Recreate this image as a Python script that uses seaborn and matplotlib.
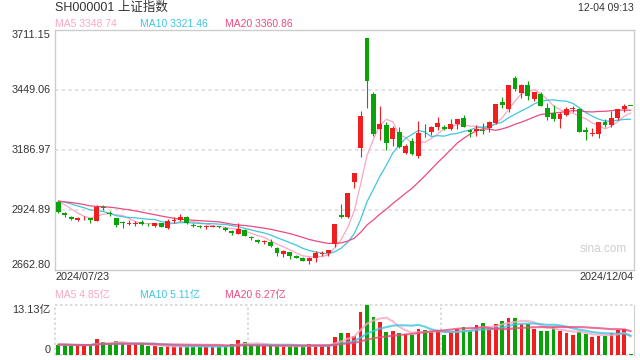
import numpy as np
import pandas as pd
import seaborn as sns
import matplotlib
matplotlib.use("Agg")
import matplotlib.pyplot as plt


# daily OHLC of SH000001, 2024/07/23 .. 2024/12/04 (90 trading days)
opens = [2962, 2911, 2893, 2883, 2888, 2888, 2879, 2940, 2913, 2891,
         2873, 2864, 2862, 2872, 2861, 2856, 2867, 2848, 2875, 2880,
         2893, 2861, 2856, 2849, 2852, 2854, 2845, 2833, 2821, 2838,
         2806, 2796, 2784, 2787, 2758, 2732, 2740, 2724, 2716, 2704,
         2717, 2733, 2735, 2775, 2901, 2896, 3049, 3196, 3674.40, 3433,
         3278, 3297, 3233, 3264, 3173, 3225, 3162, 3272, 3267, 3286,
         3287, 3280, 3300, 3325, 3275, 3268, 3276, 3283, 3305, 3398,
         3364, 3500, 3437, 3471, 3408, 3433, 3369, 3347, 3324, 3342,
         3364, 3366, 3275, 3256, 3255, 3311, 3296, 3328, 3368, 3379]
highs = [2966, 2914, 2898, 2893, 2898, 2891, 2945, 2948, 2922, 2892,
         2878, 2880, 2878, 2880, 2866, 2870, 2868, 2884, 2893, 2906,
         2897, 2866, 2860, 2859, 2860, 2857, 2850, 2838, 2866, 2840,
         2812, 2797, 2793, 2799, 2763, 2748, 2741, 2727, 2719, 2718,
         2747, 2745, 2752, 2863, 2952, 3000.95, 3087.80, 3358.59, 3674.40, 3440,
         3380, 3310, 3290, 3288, 3213, 3240, 3312, 3300, 3290, 3330,
         3294, 3321, 3322, 3340, 3280, 3296, 3306, 3313, 3388, 3420,
         3472, 3511, 3474, 3490, 3440, 3440, 3391, 3383, 3352, 3375,
         3380, 3372, 3286, 3283, 3310, 3321, 3356, 3365, 3386, 3379]
lows = [2912, 2896, 2880, 2876, 2883, 2866, 2876, 2927, 2899, 2851,
        2847, 2858, 2855, 2858, 2853, 2852, 2849, 2844, 2870, 2877,
        2863, 2852, 2846, 2841, 2850, 2846, 2833, 2815, 2818, 2810,
        2796, 2779, 2778, 2765, 2726, 2720, 2713, 2716, 2702, 2690,
        2699, 2723, 2722, 2764, 2889, 2889, 3020, 3155, 3370, 3246,
        3232, 3189, 3204, 3196, 3168, 3165, 3152, 3242, 3254, 3275,
        3275, 3275, 3279, 3286, 3245, 3248, 3258, 3264, 3300, 3369,
        3355, 3446, 3416, 3405, 3402, 3377, 3320, 3315, 3285, 3335,
        3354, 3266, 3231, 3248, 3240, 3289, 3289, 3318, 3354, 3378.81]
closes = [2915.37, 2901.95, 2886.74, 2890.90, 2891.85, 2879.30, 2938.75, 2932.39, 2905.34, 2860.70,
          2867.28, 2869.90, 2869.83, 2862.19, 2858.20, 2867.95, 2850.65, 2877.36, 2879.43, 2893.67,
          2866.66, 2856.58, 2848.77, 2854.37, 2855.52, 2848.73, 2837.43, 2823.11, 2842.21, 2811.04,
          2802.98, 2784.28, 2788.22, 2765.81, 2736.49, 2744.19, 2721.80, 2717.12, 2704.09, 2717.28,
          2736.02, 2736.81, 2748.92, 2863.13, 2896.31, 3000.95, 3087.53, 3336.50, 3489.78, 3258.86,
          3301.93, 3217.74, 3284.32, 3201.29, 3202.95, 3169.38, 3261.56, 3268.11, 3285.87, 3302.80,
          3280.26, 3299.70, 3322.20, 3286.41, 3266.24, 3279.82, 3272.01, 3310.21, 3386.99, 3383.81,
          3470.66, 3452.30, 3470.07, 3421.97, 3439.28, 3379.84, 3330.73, 3323.85, 3346.01, 3367.99,
          3370.40, 3267.19, 3263.76, 3259.76, 3309.78, 3295.70, 3326.46, 3363.98, 3378.81, 3378.81]
# closes of the 19 sessions before the window, only needed to start the moving averages
prev_closes = [2972.53, 2945.85, 2967.40, 2994.73, 2997.01, 2982.38, 2957.57, 2949.93, 2922.45, 2959.37,
               2939.36, 2970.39, 2971.30, 2974.01, 2976.30, 2962.76, 2977.13, 2982.31, 2964.22]
# volume, 亿
volumes = [2.73, 2.73, 2.55, 2.55, 2.55, 2.55, 4.14, 3.35, 2.91, 3.61,
           3.08, 2.55, 2.91, 2.91, 2.29, 2.29, 2.03, 2.29, 2.29, 2.29,
           2.29, 2.29, 2.29, 2.29, 2.29, 2.29, 2.29, 2.91, 3.87, 3.35,
           2.55, 2.55, 2.29, 2.55, 2.29, 2.29, 2.29, 2.29, 2.29, 3.00,
           2.50, 2.38, 2.38, 4.84, 5.90, 5.90, 5.02, 11.18, 13.13, 10.04,
           8.54, 6.16, 6.34, 5.90, 5.55, 5.28, 6.87, 6.61, 5.99, 6.43,
           5.24, 5.99, 6.73, 7.35, 6.43, 7.88, 8.45, 6.73, 8.19, 8.94,
           9.73, 9.73, 8.15, 8.19, 6.82, 6.30, 6.30, 7.26, 6.30, 5.81,
           5.24, 6.07, 5.50, 4.71, 5.02, 4.97, 5.81, 6.60, 6.73, 0.20]

price_ticks = [3711.15, 3449.06, 3186.97, 2924.89, 2662.80]
price_tick_labels = ['3711.15', '3449.06', '3186.97', '2924.89', '2662.80']
vol_ticks = [13.13, 0]
vol_tick_labels = ['13.13亿', '0']
date_labels = ['2024/07/23', '2024/12/04']
title = 'SH000001 上证指数'
stamp = '12-04 09:13'
ma_price_text = ['MA5 3348.74', 'MA10 3321.46', 'MA20 3360.86']
ma_vol_text = ['MA5 4.85亿', 'MA10 5.11亿', 'MA20 6.27亿']

RED = '#f01e1e'
GREEN = '#08a308'
MA_COLORS = ['#f8a8c4', '#3ec6e0', '#ec4b7f']
TXT = '#333333'

df = pd.DataFrame({'open': opens, 'high': highs, 'low': lows,
                   'close': closes, 'vol': volumes})
df['i'] = np.arange(len(df))
df['dir'] = np.where(df['close'] >= df['open'], 'up', 'down')
all_close = pd.Series(prev_closes + closes)
for n in (5, 10, 20):
    df[f'ma{n}'] = all_close.rolling(n).mean().to_numpy()[len(prev_closes):]
    df[f'vma{n}'] = df['vol'].rolling(n, min_periods=1).mean()

sns.set_style('white')
plt.rcParams['font.family'] = ['Liberation Sans', 'Noto Sans CJK SC', 'DejaVu Sans']

W, H = 640, 360
fig = plt.figure(figsize=(6.4, 3.6), dpi=100)
ax = fig.add_axes([55 / W, 90 / H, 579 / W, 240 / H])
axv = fig.add_axes([55 / W, 5 / H, 579 / W, 50 / H])

# --- price panel ---
for n, c in zip((5, 10, 20), MA_COLORS):
    sns.lineplot(data=df, x='i', y=f'ma{n}', ax=ax, color=c, linewidth=0.9, zorder=2)

cols = np.where(df['dir'] == 'up', RED, GREEN)
body_lo = np.minimum(df['open'], df['close'])
body_h = np.maximum(np.abs(df['close'] - df['open']), 3.0)
ax.vlines(df['i'], df['low'], df['high'], colors=cols, linewidth=0.8, zorder=3)
ax.bar(df['i'], body_h, bottom=body_lo, width=0.76, color=cols, linewidth=0, zorder=4)

ax.set_xlim(-0.5, len(df) - 0.5)
ax.set_ylim(price_ticks[-1], price_ticks[0])
ax.set_xticks([])
ax.set_yticks([])
ax.set_xlabel('')
ax.set_ylabel('')
for s in ax.spines.values():
    s.set_color('#cccccc')
    s.set_linewidth(1)
for v in price_ticks[1:-1]:
    ax.axhline(v, color='#dddddd', linewidth=1.2, linestyle=(0, (2, 2)), zorder=1)
tr = ax.get_yaxis_transform()
for k, (v, lab) in enumerate(zip(price_ticks, price_tick_labels)):
    va = 'top' if k == 0 else ('bottom' if k == len(price_ticks) - 1 else 'center')
    ax.text(-0.007, v, lab, transform=tr, ha='right', va=va, fontsize=7.8, color=TXT)

# --- volume panel ---
sns.barplot(data=df, x='i', y='vol', hue='dir', palette={'up': RED, 'down': GREEN},
            native_scale=True, width=0.58, saturation=1, errorbar=None,
            legend=False, linewidth=0, ax=axv, zorder=2)
for n, c in zip((5, 10, 20), MA_COLORS):
    sns.lineplot(data=df, x='i', y=f'vma{n}', ax=axv, color=c, linewidth=1.5,
                 alpha=0.8, zorder=3)
axv.set_xlim(-0.5, len(df) - 0.5)
axv.set_ylim(0, vol_ticks[0])
axv.set_xticks([])
axv.set_yticks([])
axv.set_xlabel('')
axv.set_ylabel('')
for side in ('top', 'bottom', 'left'):
    axv.spines[side].set_visible(False)
axv.spines['right'].set_color('#d0d0d0')
dot = dict(color='#d6d6d6', linewidth=1.2, linestyle=(0, (1.5, 1.5)), zorder=1, clip_on=False)
axv.axhline(vol_ticks[0], **dot)
axv.axhline(0, **dot)
axv.axvline(-0.5, **dot)
for xv in (29.5, 59.5):
    axv.axvline(xv, **dot)
trv = axv.get_yaxis_transform()
axv.text(-0.007, vol_ticks[0], vol_tick_labels[0], transform=trv, ha='right', va='top',
         fontsize=7.8, color=TXT)
axv.text(-0.007, vol_ticks[1], vol_tick_labels[1], transform=trv, ha='right', va='bottom',
         fontsize=7.8, color=TXT)

# --- texts ---
fig.text(55 / W, 1 - 8 / H, title, ha='left', va='center', fontsize=9, color=TXT)
fig.text(634 / W, 1 - 8 / H, stamp, ha='right', va='center', fontsize=7.5, color=TXT)
for xp, t, c in zip((55, 140, 225), ma_price_text, MA_COLORS):
    fig.text(xp / W, 1 - 24 / H, t, ha='left', va='center', fontsize=7.5, color=c)
for xp, t, c in zip((55, 140, 225), ma_vol_text, MA_COLORS):
    fig.text(xp / W, 1 - 295 / H, t, ha='left', va='center', fontsize=7.5, color=c)
fig.text(55 / W, 1 - 277 / H, date_labels[0], ha='left', va='center', fontsize=7.8, color=TXT)
fig.text(634 / W, 1 - 277 / H, date_labels[1], ha='right', va='center', fontsize=7.8, color=TXT)
fig.text(603 / W, 1 - 249 / H, 'sina.com', ha='center', va='center', fontsize=8.5, color='#cfcfcf')

fig.savefig('out.png', dpi=100, facecolor='white')
